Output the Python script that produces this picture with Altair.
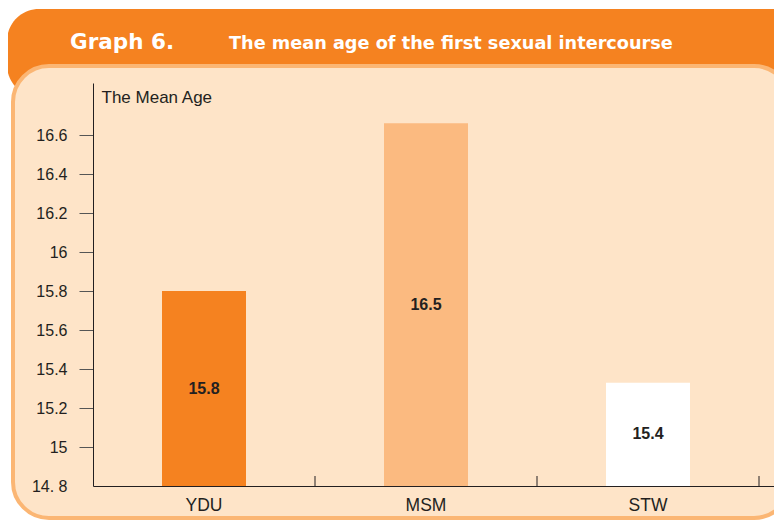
import altair as alt
import pandas as pd

categories = ["YDU", "MSM", "STW"]
bar_tops = [15.8, 16.66, 15.33]
value_labels = ["15.8", "16.5", "15.4"]
bar_colors = ["#F58220", "#FBBA80", "#FFFFFF"]
y_ticks = [14.8, 15.0, 15.2, 15.4, 15.6, 15.8, 16.0, 16.2, 16.4, 16.6]
y_domain = [14.8, 16.867]
baseline_value = 14.8

title_main = "Graph 6."
title_sub = "The mean age of the first sexual intercourse"
y_title = "The Mean Age"

ORANGE = "#F58220"
LIGHT = "#FBB674"
PEACH = "#FEE4C8"
DARK = "#231F20"
FONT = "Liberation Sans"

W, H = 681, 403
STEP = 222
pad_outer = (W / STEP - 3) / 2

df = pd.DataFrame({
    "cat": categories,
    "value": bar_tops,
    "label": value_labels,
})
df["base"] = baseline_value
df["mid"] = (df["value"] + df["base"]) / 2

x_scale = alt.Scale(domain=categories, paddingInner=0, paddingOuter=pad_outer, align=0)
y_scale = alt.Scale(domain=y_domain, zero=False, nice=False)

x_axis = alt.Axis(
    title=None, ticks=False, labelAngle=0, labelFont=FONT, labelFontSize=17.5,
    labelColor=DARK, labelPadding=10, domainColor=DARK, domainWidth=1,
    grid=False, zindex=1,
)
y_axis = alt.Axis(
    title=y_title, titleAngle=0, titleX=8, titleY=14, titleAlign="left",
    titleBaseline="middle", titleFont=FONT, titleFontSize=17,
    titleFontWeight="normal", titleColor=DARK,
    values=y_ticks, tickSize=14, tickColor="#555555", tickWidth=1,
    tickOpacity={"condition": {"test": "datum.value < 14.9", "value": 0}, "value": 1},
    labelExpr="datum.value < 14.9 ? '14. 8' : format(datum.value, '~g')",
    labelFont=FONT, labelFontSize=16, labelColor=DARK, labelPadding=12,
    domainColor=DARK, domainWidth=1, grid=False, zindex=1,
)

X = alt.X("cat:N", scale=x_scale, axis=x_axis, sort=categories)

one = alt.Data(values=[{}])

outer = alt.Chart(one).mark_rect(cornerRadius=32, color=ORANGE).encode(
    x=alt.value(-86), x2=alt.value(740), y=alt.value(-74), y2=alt.value(14)
)
panel = alt.Chart(one).mark_rect(
    cornerRadius=36, fill=PEACH, stroke=LIGHT, strokeWidth=4
).encode(
    x=alt.value(-80), x2=alt.value(697), y=alt.value(-17), y2=alt.value(435)
)
t_main = alt.Chart(one).mark_text(
    text=title_main, font="DejaVu Sans", fontWeight="bold", fontSize=21.5,
    color="white", align="left", baseline="alphabetic"
).encode(x=alt.value(-23), y=alt.value(-34))
t_sub = alt.Chart(one).mark_text(
    text=title_sub, font="DejaVu Sans", fontWeight="bold", fontSize=17.7,
    color="white", align="left", baseline="alphabetic"
).encode(x=alt.value(136), y=alt.value(-34))

bars = alt.Chart(df).mark_bar(width=84, strokeWidth=0).encode(
    x=X,
    y=alt.Y("value:Q", scale=y_scale, axis=y_axis),
    y2="base:Q",
    color=alt.Color("cat:N", scale=alt.Scale(domain=categories, range=bar_colors), legend=None),
)
labels = alt.Chart(df).mark_text(
    font=FONT, fontWeight="bold", fontSize=16, color=DARK, baseline="middle"
).encode(
    x=X,
    y=alt.Y("mid:Q", scale=y_scale, axis=y_axis),
    text="label:N",
)
xticks = alt.Chart(df).mark_rule(color=DARK, strokeWidth=1).encode(
    x=alt.X("cat:N", scale=x_scale, axis=x_axis, sort=categories, bandPosition=1),
    y=alt.value(H - 10), y2=alt.value(H),
)

chart = alt.layer(outer, panel, t_main, t_sub, bars, labels, xticks).properties(
    width=W, height=H,
    autosize=alt.AutoSizeParams(type="none"),
    padding={"left": 85, "top": 75, "right": 0, "bottom": 35},
    background="white",
).configure_view(stroke=None)

chart.save("out.html", embed_options={"renderer": "svg", "actions": False})
